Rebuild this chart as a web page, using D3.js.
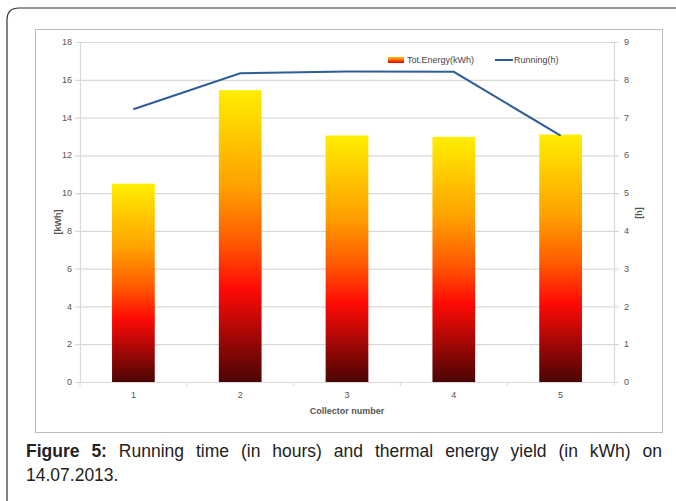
<!DOCTYPE html>
<html>
<head>
<meta charset="utf-8">
<script src="https://cdn.jsdelivr.net/npm/d3@7"></script>
<style>
  body { margin: 0; background: #fff; }
  svg { display: block; }
</style>
</head>
<body>
<svg id="chart" width="676" height="501"></svg>
<script>
var collectors = ["1", "2", "3", "4", "5"];
var energy = [10.5, 15.45, 13.05, 12.98, 13.1];
var running = [7.22, 8.17, 8.22, 8.21, 6.52];
var leftTicks = [0, 2, 4, 6, 8, 10, 12, 14, 16, 18];
var rightTicks = [0, 1, 2, 3, 4, 5, 6, 7, 8, 9];

var svg = d3.select("#chart");
var margin = { left: 80, right: 614, top: 42, bottom: 382 };
var font = "'Liberation Sans', Arial, sans-serif";

// outer figure frame with rounded corner
svg.append("path")
  .attr("d", "M7,505 L7,20 Q7,8 19,8 L690,8")
  .attr("fill", "none")
  .attr("stroke", "#333")
  .attr("stroke-width", 1.2);

// chart box
svg.append("rect")
  .attr("x", 35.5).attr("y", 29.5)
  .attr("width", 627).attr("height", 403)
  .attr("fill", "#fff")
  .attr("stroke", "#bdbdbd");

var x = d3.scaleBand()
  .domain(collectors)
  .range([margin.left, margin.right])
  .paddingInner(0.6)
  .paddingOuter(0.3);

var xLine = d3.scalePoint()
  .domain(collectors)
  .range([margin.left, margin.right])
  .padding(0.5);

var yLeft = d3.scaleLinear().domain([0, 18]).range([margin.bottom, margin.top]);
var yRight = d3.scaleLinear().domain([0, 9]).range([margin.bottom, margin.top]);

// gradient for bars
var defs = svg.append("defs");
var grad = defs.append("linearGradient")
  .attr("id", "barGrad")
  .attr("x1", 0).attr("y1", 0).attr("x2", 0).attr("y2", 1);
grad.append("stop").attr("offset", "0%").attr("stop-color", "#ffee00");
grad.append("stop").attr("offset", "33%").attr("stop-color", "#ffa000");
grad.append("stop").attr("offset", "52%").attr("stop-color", "#ff5a00");
grad.append("stop").attr("offset", "68%").attr("stop-color", "#ff0a05");
grad.append("stop").attr("offset", "100%").attr("stop-color", "#4a0505");

var legGrad = defs.append("linearGradient")
  .attr("id", "legGrad")
  .attr("x1", 0).attr("y1", 0).attr("x2", 0).attr("y2", 1);
legGrad.append("stop").attr("offset", "0%").attr("stop-color", "#ffcc00");
legGrad.append("stop").attr("offset", "50%").attr("stop-color", "#ff6000");
legGrad.append("stop").attr("offset", "100%").attr("stop-color", "#e00000");

// gridlines
svg.append("g")
  .selectAll("line")
  .data(leftTicks)
  .enter()
  .append("line")
  .attr("x1", margin.left - 5)
  .attr("x2", margin.right + 5)
  .attr("y1", d => yLeft(d) + 0.5)
  .attr("y2", d => yLeft(d) + 0.5)
  .attr("stroke", "#d9d9d9")
  .attr("stroke-width", 1.2);

// plot area sides
[margin.left, margin.right].forEach(function (px) {
  svg.append("line")
    .attr("x1", px + 0.5).attr("x2", px + 0.5)
    .attr("y1", margin.top).attr("y2", margin.bottom)
    .attr("stroke", "#d9d9d9")
    .attr("stroke-width", 1.2);
});

// category separator ticks
var bw = (margin.right - margin.left) / collectors.length;
svg.append("g")
  .selectAll("line")
  .data(d3.range(collectors.length + 1))
  .enter()
  .append("line")
  .attr("x1", d => margin.left + d * bw)
  .attr("x2", d => margin.left + d * bw)
  .attr("y1", margin.bottom)
  .attr("y2", margin.bottom + 4)
  .attr("stroke", "#d9d9d9");

// bars
svg.append("g")
  .selectAll("rect")
  .data(energy)
  .enter()
  .append("rect")
  .attr("x", (d, i) => x(collectors[i]))
  .attr("y", d => yLeft(d))
  .attr("width", x.bandwidth())
  .attr("height", d => yLeft(0) - yLeft(d))
  .attr("fill", "url(#barGrad)");

// line
var line = d3.line()
  .x((d, i) => xLine(collectors[i]))
  .y(d => yRight(d));

svg.append("path")
  .datum(running)
  .attr("d", line)
  .attr("fill", "none")
  .attr("stroke", "#2f5d98")
  .attr("stroke-width", 2);

// axis labels
svg.append("g")
  .selectAll("text")
  .data(leftTicks)
  .enter()
  .append("text")
  .attr("x", 72)
  .attr("y", d => yLeft(d))
  .attr("dy", "0.35em")
  .attr("text-anchor", "end")
  .attr("font-family", font)
  .attr("font-size", 9)
  .attr("fill", "#555")
  .text(d => d);

svg.append("g")
  .selectAll("text")
  .data(rightTicks)
  .enter()
  .append("text")
  .attr("x", 624)
  .attr("y", d => yRight(d))
  .attr("dy", "0.35em")
  .attr("font-family", font)
  .attr("font-size", 9)
  .attr("fill", "#555")
  .text(d => d);

svg.append("g")
  .selectAll("text")
  .data(collectors)
  .enter()
  .append("text")
  .attr("x", d => xLine(d))
  .attr("y", 398)
  .attr("text-anchor", "middle")
  .attr("font-family", font)
  .attr("font-size", 9)
  .attr("fill", "#555")
  .text(d => d);

svg.append("text")
  .attr("x", 347)
  .attr("y", 414)
  .attr("text-anchor", "middle")
  .attr("font-family", font)
  .attr("font-size", 9)
  .attr("font-weight", "bold")
  .attr("fill", "#555")
  .text("Collector number");

svg.append("text")
  .attr("transform", "translate(61,222) rotate(-90)")
  .attr("text-anchor", "middle")
  .attr("font-family", font)
  .attr("font-size", 9)
  .attr("font-weight", "bold")
  .attr("fill", "#555")
  .text("[kWh]");

svg.append("text")
  .attr("transform", "translate(642,213) rotate(-90)")
  .attr("text-anchor", "middle")
  .attr("font-family", font)
  .attr("font-size", 9)
  .attr("font-weight", "bold")
  .attr("fill", "#555")
  .text("[h]");

// legend
svg.append("rect")
  .attr("x", 388).attr("y", 57)
  .attr("width", 16).attr("height", 6)
  .attr("fill", "url(#legGrad)");
svg.append("text")
  .attr("x", 407).attr("y", 60)
  .attr("dy", "0.35em")
  .attr("font-family", font)
  .attr("font-size", 9)
  .attr("fill", "#444")
  .text("Tot.Energy(kWh)");
svg.append("line")
  .attr("x1", 495).attr("x2", 513)
  .attr("y1", 60).attr("y2", 60)
  .attr("stroke", "#2f5d98")
  .attr("stroke-width", 2);
svg.append("text")
  .attr("x", 514).attr("y", 60)
  .attr("dy", "0.35em")
  .attr("font-family", font)
  .attr("font-size", 9)
  .attr("fill", "#444")
  .text("Running(h)");

// caption, first line justified through word spacing
var capLeft = 26, capRight = 662;
var cap = svg.append("text")
  .attr("x", capLeft).attr("y", 457)
  .attr("font-family", font)
  .attr("font-size", 17.5)
  .attr("fill", "#222");
cap.append("tspan").attr("font-weight", "bold").text("Figure 5:");
cap.append("tspan").text(" Running time (in hours) and thermal energy yield (in kWh) on");
var natural = cap.node().getComputedTextLength();
var gaps = 12;
cap.attr("word-spacing", Math.max(0, (capRight - capLeft - natural) / gaps));

svg.append("text")
  .attr("x", capLeft).attr("y", 481)
  .attr("font-family", font)
  .attr("font-size", 17.5)
  .attr("fill", "#222")
  .text("14.07.2013.");
</script>
</body>
</html>
